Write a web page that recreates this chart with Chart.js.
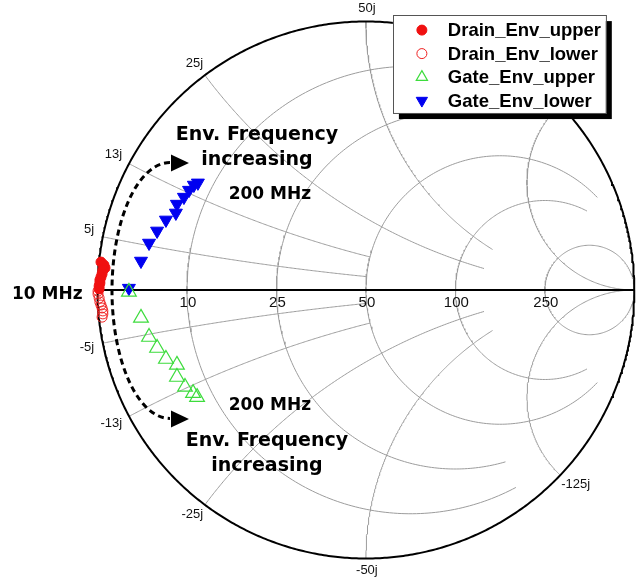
<!DOCTYPE html>
<html><head><meta charset="utf-8">
<script src="https://cdn.jsdelivr.net/npm/chart.js@4.4.1/dist/chart.umd.min.js"></script>
<style>html,body{margin:0;padding:0;background:#fff}canvas{display:block}</style>
</head><body>
<canvas id="c" width="644" height="581"></canvas>
<script>
// ---------- chart values ----------
const Z0 = 50;
const resistanceTicks = [10, 25, 50, 100, 250];          // ohm, constant-R circles
const reactanceTicks  = [5, 12.5, 25, 50, 125];          // ohm, constant-X arcs (labels rounded)
const resistanceStop  = [2, 2, 5, 5, Infinity];          // normalized |x| where each R circle ends
const reactanceStop   = [1, 1, 2.5, 2.5, Infinity];      // normalized r where each X arc ends

// reflection coefficient (real, imaginary) of each measured point
const drainUpperRe = [-0.987, -0.976, -0.972, -0.980, -0.983, -0.987, -0.991, -0.991, -0.994, -0.994];
const drainUpperIm = [ 0.104,  0.093,  0.082,  0.074,  0.060,  0.048,  0.037,  0.026,  0.015,  0.004];
const drainLowerRe = [-0.998, -0.998, -0.994, -0.991, -0.987, -0.983, -0.980, -0.980, -0.983];
const drainLowerIm = [-0.004, -0.015, -0.030, -0.045, -0.056, -0.067, -0.078, -0.089, -0.101];
const gateUpperRe  = [-0.883, -0.838, -0.808, -0.778, -0.745, -0.704, -0.704, -0.674, -0.644, -0.629];
const gateUpperIm  = [-0.007, -0.104, -0.175, -0.216, -0.257, -0.279, -0.324, -0.361, -0.384, -0.399];
const gateLowerRe  = [-0.883, -0.838, -0.808, -0.778, -0.745, -0.708, -0.704, -0.678, -0.659, -0.641, -0.626];
const gateLowerIm  = [ 0.007,  0.108,  0.175,  0.220,  0.261,  0.287,  0.320,  0.346,  0.372,  0.391,  0.399];
const seriesNames  = ['Drain_Env_upper', 'Drain_Env_lower', 'Gate_Env_upper', 'Gate_Env_lower'];

// ---------- helpers ----------
function gamma(r, x) {               // z = r + jx (normalized) -> reflection coefficient
  const den = (r + 1) * (r + 1) + x * x;
  return { x: ((r - 1) * (r + 1) + x * x) / den, y: (2 * x) / den };
}
function rCircle(r, xm) {
  const c = r / (1 + r), rad = 1 / (1 + r), pts = [];
  let t0 = 0;
  if (isFinite(xm)) { const p = gamma(r, xm); t0 = Math.atan2(p.y, p.x - c); }
  const t1 = 2 * Math.PI - t0, n = 240;
  for (let i = 0; i <= n; i++) { const t = t0 + (t1 - t0) * i / n; pts.push({ x: c + rad * Math.cos(t), y: rad * Math.sin(t) }); }
  return pts;
}
function xArc(x, rm) {
  const cy = 1 / x, rad = 1 / Math.abs(x), pts = [], TAU = 2 * Math.PI;
  const p0 = gamma(0, x), p1 = isFinite(rm) ? gamma(rm, x) : { x: 1, y: 0 };
  let a0 = Math.atan2(p0.y - cy, p0.x - 1), a1 = Math.atan2(p1.y - cy, p1.x - 1);
  if (x > 0) { a0 = (a0 + TAU) % TAU; a1 = (a1 + TAU) % TAU; if (a1 < a0) a1 += TAU; }
  else { a0 = (a0 - TAU) % TAU; a1 = (a1 - TAU) % TAU; if (a1 > a0) a1 -= TAU; }
  const n = 200;
  for (let i = 0; i <= n; i++) { const a = a0 + (a1 - a0) * i / n; pts.push({ x: 1 + rad * Math.cos(a), y: cy + rad * Math.sin(a) }); }
  return pts;
}
const zip = (re, im) => re.map((v, i) => ({ x: v, y: im[i] }));

const gridStyle = { showLine: true, pointRadius: 0, borderColor: '#9c9c9c', borderWidth: 1, tension: 0, clip: false, order: 5, fill: false };
const gridSets = [];
resistanceTicks.forEach((R, i) => gridSets.push({ ...gridStyle, data: rCircle(R / Z0, resistanceStop[i]) }));
reactanceTicks.forEach((X, i) => {
  gridSets.push({ ...gridStyle, data: xArc(X / Z0, reactanceStop[i]) });
  gridSets.push({ ...gridStyle, data: xArc(-X / Z0, reactanceStop[i]) });
});
const outer = [];
for (let i = 0; i <= 720; i++) { const t = 2 * Math.PI * i / 720; outer.push({ x: Math.cos(t), y: Math.sin(t) }); }
gridSets.push({ ...gridStyle, data: outer, borderColor: '#000', borderWidth: 2, order: 4 });
gridSets.push({ ...gridStyle, data: [{ x: -1, y: 0 }, { x: 1, y: 0 }], borderColor: '#000', borderWidth: 2, order: 4 });

const pointSets = [
  { label: seriesNames[0], data: zip(drainUpperRe, drainUpperIm), pointStyle: 'circle', pointRadius: 5, backgroundColor: '#f01010', borderColor: '#f01010', borderWidth: 1 },
  { label: seriesNames[1], data: zip(drainLowerRe, drainLowerIm), pointStyle: 'circle', pointRadius: 5, backgroundColor: 'rgba(0,0,0,0)', borderColor: '#f02020', borderWidth: 1 },
  { label: seriesNames[2], data: zip(gateUpperRe, gateUpperIm), pointStyle: 'triangle', pointRadius: 8.5, backgroundColor: 'rgba(0,0,0,0)', borderColor: '#3ddc3d', borderWidth: 1.2 },
  { label: seriesNames[3], data: zip(gateLowerRe, gateLowerIm), pointStyle: 'triangle', rotation: 180, pointRadius: 7.5, backgroundColor: '#0000f0', borderColor: '#0000f0', borderWidth: 1 }
].map(d => ({ ...d, showLine: false, clip: false, order: 0, pointHoverRadius: d.pointRadius }));

function marker(ctx, ds, x, y) {
  ctx.save();
  ctx.lineWidth = ds.borderWidth; ctx.strokeStyle = ds.borderColor; ctx.fillStyle = ds.backgroundColor;
  ctx.beginPath();
  if (ds.pointStyle === 'circle') { ctx.arc(x, y, ds.pointRadius, 0, 2 * Math.PI); }
  else {
    let a = (ds.rotation || 0) * Math.PI / 180; const r = ds.pointRadius;
    for (let k = 0; k < 3; k++) { const px = x + Math.sin(a) * r, py = y - Math.cos(a) * r; k ? ctx.lineTo(px, py) : ctx.moveTo(px, py); a += 2 * Math.PI / 3; }
    ctx.closePath();
  }
  ctx.fill(); ctx.stroke(); ctx.restore();
}

const decor = {
  id: 'smithDecor',
  afterDraw(chart) {
    const ctx = chart.ctx, xs = chart.scales.x, ys = chart.scales.y;
    const cx = xs.getPixelForValue(0), cy = ys.getPixelForValue(0), R = xs.getPixelForValue(1) - cx;
    const P = (gx, gy) => [xs.getPixelForValue(gx), ys.getPixelForValue(gy)];
    // reference-image pixel -> canvas pixel via chart geometry
    const A = (px, py) => [cx + (px - 366) / 268.5 * R, cy + (py - 290) / 268.5 * R];
    ctx.save();
    // resistance labels
    ctx.fillStyle = '#111'; ctx.font = '15px "Liberation Sans", Arial, sans-serif'; ctx.textAlign = 'center'; ctx.textBaseline = 'alphabetic';
    resistanceTicks.forEach(Rv => { const p = gamma(Rv / Z0, 0); const [px, py] = P(p.x, p.y); ctx.fillText(String(Rv), px + 1, py + 17); });
    // reactance labels
    ctx.font = '13px "Liberation Sans", Arial, sans-serif';
    reactanceTicks.forEach(Xv => [1, -1].forEach(s => {
      const p = gamma(0, s * Xv / Z0); const [px, py] = P(p.x, p.y); const c = p.x, sn = p.y;
      let tx;
      if (Math.abs(c) < 0.15) { ctx.textAlign = 'center'; tx = px + 1; }
      else if (c < 0) { ctx.textAlign = 'right'; tx = px - (Math.abs(c) - 0.5) * 18; }
      else { ctx.textAlign = 'left'; tx = px + 1; }
      const ty = sn > 0 ? py - (2 + 8 * sn) : py + (-3 + 9 * Math.abs(sn)) + 9.3;
      ctx.fillText((s < 0 ? '-' : '') + Math.round(Xv) + 'j', tx, ty);
    }));
    // annotations
    ctx.fillStyle = '#000'; ctx.textAlign = 'left';
    ctx.font = 'bold 17px "DejaVu Sans", Verdana, sans-serif';
    let q = A(12, 299); ctx.fillText('10 MHz', q[0], q[1]);
    ctx.textAlign = 'center';
    q = A(270, 199); ctx.fillText('200 MHz', q[0], q[1]);
    q = A(270, 410); ctx.fillText('200 MHz', q[0], q[1]);
    ctx.font = 'bold 19px "DejaVu Sans", Verdana, sans-serif';
    q = A(257, 140); ctx.fillText('Env. Frequency', q[0], q[1]);
    q = A(257, 165); ctx.fillText('increasing', q[0], q[1]);
    q = A(267, 446); ctx.fillText('Env. Frequency', q[0], q[1]);
    q = A(267, 471); ctx.fillText('increasing', q[0], q[1]);
    // dashed arrow path
    const ec = A(170, 290.5), s = R / 268.5;
    ctx.setLineDash([6, 4]); ctx.lineWidth = 3; ctx.strokeStyle = '#000';
    ctx.beginPath(); ctx.ellipse(ec[0], ec[1], 58 * s, 128 * s, 0, -Math.PI / 2, Math.PI / 2, true); ctx.stroke();
    ctx.setLineDash([]);
    [[163], [419]].forEach(([yy]) => {
      const t = A(189, yy), b1 = A(171, yy - 8.5), b2 = A(171, yy + 8.5);
      ctx.beginPath(); ctx.moveTo(t[0], t[1]); ctx.lineTo(b1[0], b1[1]); ctx.lineTo(b2[0], b2[1]); ctx.closePath(); ctx.fill();
    });
    // legend
    const L = A(393, 15), L2 = A(606, 113), w = L2[0] - L[0], h = L2[1] - L[1];
    ctx.fillStyle = '#000'; ctx.fillRect(L[0] + 6, L[1] + 6, w, h);
    ctx.fillStyle = '#fff'; ctx.fillRect(L[0], L[1], w, h);
    ctx.strokeStyle = '#555'; ctx.lineWidth = 1; ctx.strokeRect(Math.round(L[0]) + 0.5, Math.round(L[1]) + 0.5, w, h);
    ctx.font = 'bold 18.5px "Liberation Sans", Arial, sans-serif'; ctx.textAlign = 'left'; ctx.textBaseline = 'middle';
    pointSets.forEach((ds, i) => {
      const m = A(422, 30 + i * 23.5), t = A(448, 31 + i * 23.5);
      marker(ctx, { ...ds, pointRadius: ds.pointStyle === 'circle' ? 5 : 6.5 }, m[0], m[1]);
      ctx.fillStyle = '#000'; ctx.fillText(ds.label, t[0], t[1]);
    });
    ctx.restore();
  }
};

new Chart(document.getElementById('c'), {
  type: 'scatter',
  data: { datasets: [...pointSets, ...gridSets] },
  options: {
    responsive: false, animation: false, devicePixelRatio: 1, events: [],
    layout: { padding: { left: 97.5, right: 9.5, top: 21.5, bottom: 22.5 } },
    scales: {
      x: { type: 'linear', min: -1, max: 1, display: false },
      y: { type: 'linear', min: -1, max: 1, display: false }
    },
    plugins: { legend: { display: false }, tooltip: { enabled: false } }
  },
  plugins: [decor]
});
</script>
</body></html>
